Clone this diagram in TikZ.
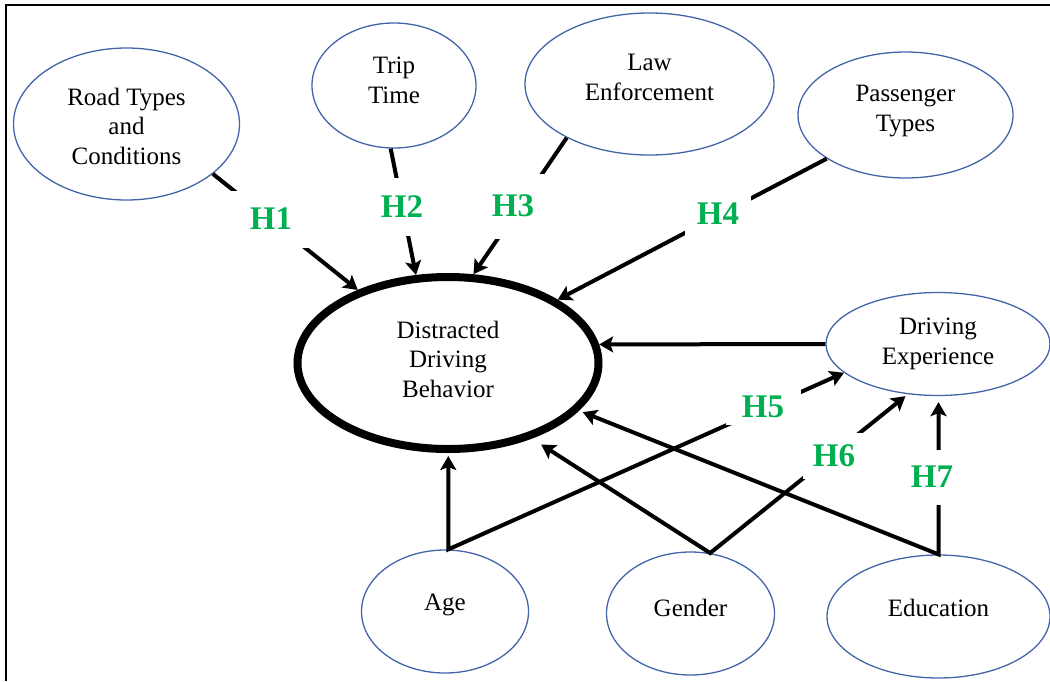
\documentclass[tikz,border=0pt]{standalone}
\usepackage{fontspec}
\setmainfont{Liberation Serif}
\usetikzlibrary{arrows.meta,shapes.geometric}
\definecolor{ellblue}{RGB}{68,100,170}
\definecolor{hgreen}{RGB}{0,176,80}
\begin{document}
\begin{tikzpicture}[x=1pt,y=-1pt,
  ell/.style={ellipse, draw=ellblue, line width=1.3pt, inner sep=0pt},
  txt/.style={font=\fontsize{25}{29.5}\selectfont, align=center, text=black},
  conn/.style={line width=4pt, -{Stealth[length=14pt,width=16pt,inset=3pt]}},
  conn2/.style={line width=4pt, {Stealth[length=14pt,width=16pt,inset=3pt]}-{Stealth[length=14pt,width=16pt,inset=3pt]}},
  hlab/.style={fill=white, inner sep=0pt, text=hgreen, font=\fontsize{33}{36}\selectfont\bfseries}]
\useasboundingbox (0,0) rectangle (1050,681);
% frame
\draw[line width=2pt] (6,681) -- (6,5) -- (1050,5);
% nodes
\node[ell, minimum width=226pt, minimum height=152pt, label={[txt,yshift=-2pt]center:Road Types\\and\\Conditions}] (road) at (126.5,124) {};
\node[ell, minimum width=164pt, minimum height=125pt, label={[txt,yshift=5pt]center:Trip\\Time}] (trip) at (394,85.5) {};
\node[ell, minimum width=249pt, minimum height=142pt, label={[txt,yshift=6.5pt]center:Law\\Enforcement}] (law) at (649.5,84) {};
\node[ell, minimum width=215pt, minimum height=126pt, label={[txt,yshift=4pt]center:Passenger\\Types}] (pass) at (905.5,115) {};
\node[ellipse, draw=black, line width=8pt, minimum width=301pt, minimum height=172pt, inner sep=0pt, label={[txt,yshift=4pt]center:Distracted\\Driving\\Behavior}] (dist) at (448,363) {};
\node[ell, minimum width=224pt, minimum height=103pt, label={[txt]center:Driving\\Experience}] (de) at (938,344) {};
\node[ell, minimum width=167pt, minimum height=123pt, label={[txt,yshift=6.5pt]center:Age}] (age) at (445,611.5) {};
\node[ell, minimum width=168pt, minimum height=123pt, label={[txt,yshift=6pt]center:Gender}] (gender) at (690.5,613.5) {};
\node[ell, minimum width=223pt, minimum height=123pt, label={[txt,yshift=8.5pt]center:Education}] (edu) at (938.5,616.5) {};
% connectors
\draw[conn] (road.-30) -- (dist.141);
\draw[conn] (trip.-93) -- (dist.110);
\draw[conn] (law.-147) -- (dist.74);
\draw[conn] (pass.-151) -- (dist.30);
\draw[conn] (de.180) -- (dist.7);
\draw[conn2, shorten <=3pt] (age.87 |- dist.south) -- (age.87) -- (de.-163);
\draw[conn2, shorten <=11pt, shorten >=3pt] (dist.-42) -- (gender.72) -- (de.-121);
\draw[conn2, shorten <=4pt, shorten >=6pt] (dist.-20) -- (edu.north) -- (edu.north |- de.south);
% hypothesis labels
\node[hlab, minimum width=80pt, minimum height=57pt] (h1) at (271,219) {H1};
\node[hlab, minimum width=60pt, minimum height=58pt] (h2) at (402,207) {H2};
\node[hlab, minimum width=64pt, minimum height=65pt] (h3) at (513,206) {H3};
\node[hlab, minimum width=66pt, minimum height=50pt] (h4) at (718,214) {H4};
\node[hlab, minimum width=75pt, minimum height=36pt] (h5) at (763,407) {H5};
\node[hlab, minimum width=62pt, minimum height=46pt] (h6) at (834,456) {H6};
\node[hlab, minimum width=50pt, minimum height=55pt] (h7) at (932,477) {H7};
\end{tikzpicture}
\end{document}
